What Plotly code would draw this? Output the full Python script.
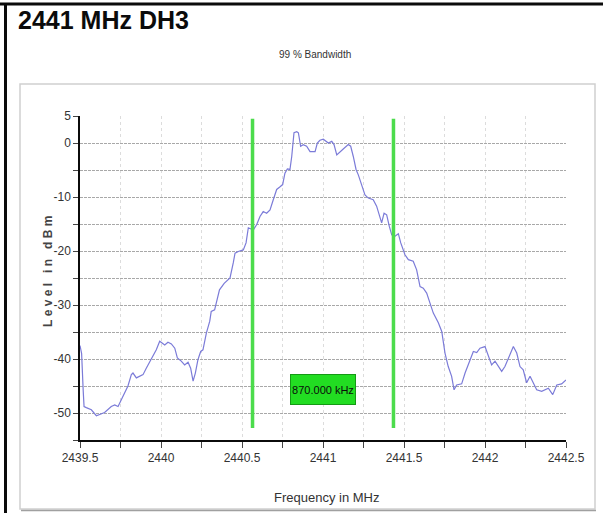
import plotly.graph_objects as go

# ---------------- data ----------------
freq_mhz = [
    2439.500, 2439.510, 2439.520, 2439.525, 2439.539, 2439.570, 2439.601, 2439.652,
    2439.693, 2439.714, 2439.735, 2439.765, 2439.796, 2439.817, 2439.827, 2439.848,
    2439.869, 2439.889, 2439.909, 2439.940, 2439.971, 2439.992, 2440.023, 2440.043,
    2440.064, 2440.085, 2440.101, 2440.125, 2440.146, 2440.167, 2440.183, 2440.198,
    2440.212, 2440.228, 2440.245, 2440.259, 2440.280, 2440.301, 2440.310, 2440.331,
    2440.352, 2440.361, 2440.390, 2440.426, 2440.446, 2440.457, 2440.477, 2440.508,
    2440.525, 2440.533, 2440.539, 2440.570, 2440.591, 2440.611, 2440.631, 2440.652,
    2440.673, 2440.693, 2440.714, 2440.735, 2440.751, 2440.765, 2440.780, 2440.796,
    2440.807, 2440.821, 2440.838, 2440.848, 2440.862, 2440.878, 2440.899, 2440.920,
    2440.951, 2440.965, 2440.981, 2441.002, 2441.023, 2441.033, 2441.054, 2441.068,
    2441.085, 2441.105, 2441.125, 2441.156, 2441.171, 2441.187, 2441.204, 2441.218,
    2441.239, 2441.259, 2441.280, 2441.310, 2441.331, 2441.348, 2441.362, 2441.377,
    2441.393, 2441.409, 2441.424, 2441.438, 2441.455, 2441.465, 2441.480, 2441.496,
    2441.506, 2441.527, 2441.557, 2441.578, 2441.599, 2441.619, 2441.640, 2441.660,
    2441.681, 2441.712, 2441.733, 2441.753, 2441.773, 2441.794, 2441.809, 2441.825,
    2441.856, 2441.877, 2441.907, 2441.928, 2441.949, 2441.969, 2442.000, 2442.020,
    2442.041, 2442.062, 2442.082, 2442.103, 2442.123, 2442.150, 2442.175, 2442.196,
    2442.216, 2442.236, 2442.257, 2442.278, 2442.294, 2442.319, 2442.350, 2442.370,
    2442.391, 2442.418, 2442.443, 2442.473, 2442.494, 2442.500,
]
level_dbm = [
    -37.5, -39.0, -46.0, -48.8, -49.0, -49.4, -50.5, -49.9,
    -48.8, -48.5, -48.8, -46.9, -45.0, -42.9, -42.6, -43.5,
    -43.2, -42.9, -41.7, -40.1, -38.3, -36.7, -37.4, -36.9,
    -37.2, -38.0, -39.8, -40.4, -41.1, -40.6, -41.7, -44.1,
    -42.6, -40.1, -38.6, -38.3, -35.2, -33.0, -31.2, -30.9,
    -28.4, -27.2, -26.0, -25.0, -22.2, -20.4, -20.1, -19.8,
    -18.5, -16.1, -15.7, -16.1, -15.1, -13.6, -12.7, -13.0,
    -12.4, -10.5, -8.6, -8.1, -7.7, -5.6, -4.8, -4.9,
    -2.5, 1.9, 2.1, 1.9, -0.6, -0.3, -0.6, -1.6,
    -1.6, 0.0, 0.5, 0.7, 0.3, 0.0, 0.3, -0.3,
    -2.2, -1.6, -1.1, -0.3, -0.6, -2.5, -4.9, -5.9,
    -7.7, -9.6, -10.2, -10.5, -11.7, -13.6, -14.8, -13.0,
    -13.3, -15.4, -17.0, -17.4, -17.0, -16.8, -18.5, -19.8,
    -20.7, -21.6, -21.9, -23.5, -26.6, -26.9, -27.8, -29.6,
    -31.5, -33.3, -34.9, -38.9, -41.4, -43.2, -45.7, -44.8,
    -44.6, -42.6, -40.1, -38.6, -38.8, -38.0, -37.7, -39.2,
    -41.1, -40.4, -41.4, -42.3, -41.4, -39.5, -37.7, -38.9,
    -41.4, -42.0, -44.4, -43.2, -44.1, -45.7, -46.0, -45.7,
    -45.4, -46.6, -44.8, -44.6, -44.1, -43.9,
]

bw_marker_freqs = [2440.565, 2441.435]
bw_marker_levels = [-52.8, 4.5]
bw_label = "870.000 kHz"
bw_label_pos = [2441.0, -45.7]

x_tick_vals = [2439.5, 2439.75, 2440.0, 2440.25, 2440.5, 2440.75, 2441.0, 2441.25,
               2441.5, 2441.75, 2442.0, 2442.25, 2442.5]
x_tick_text = ["2439.5", "", "2440", "", "2440.5", "", "2441", "",
               "2441.5", "", "2442", "", "2442.5"]
y_tick_vals = [5, 0, -5, -10, -15, -20, -25, -30, -35, -40, -45, -50, -55]
y_tick_text = ["5", "0", "", "-10", "", "-20", "", "-30", "", "-40", "", "-50", ""]

page_title = "2441 MHz DH3"
chart_title = "99 % Bandwidth"
x_title = "Frequency in MHz"
y_title = "Level in dBm"

# ---------------- layout helpers ----------------
W, H = 603, 513
L, R, T, B = 80, 566, 116, 440   # plot area in pixels


def px(x):
    return (x - L) / (R - L)


def py(y):
    return (B - y) / (B - T)


SANS = "Liberation Sans"
INK = "#0b0b0b"

NB = "\u00a0"
y_title_spaced = (NB * 3).join(NB.join(list(w)) for w in y_title.split(" "))

fig = go.Figure()
fig.add_trace(go.Scatter(
    x=freq_mhz, y=level_dbm, mode="lines",
    line=dict(color="#7b7bd8", width=1.2),
    hoverinfo="skip", showlegend=False,
))

shapes = []
for f in bw_marker_freqs:
    shapes.append(dict(type="line", xref="x", yref="y", x0=f, x1=f,
                       y0=bw_marker_levels[0], y1=bw_marker_levels[1],
                       line=dict(color="#4cdc4c", width=3.5), layer="above"))
# outer border (top and left)
shapes.append(dict(type="line", xref="paper", yref="paper",
                   x0=px(0), x1=px(603), y0=py(4), y1=py(4),
                   line=dict(color=INK, width=3)))
shapes.append(dict(type="line", xref="paper", yref="paper",
                   x0=px(5.5), x1=px(5.5), y0=py(3), y1=py(513),
                   line=dict(color=INK, width=3)))
# inner chart panel
shapes.append(dict(type="rect", xref="paper", yref="paper",
                   x0=px(20), x1=px(595), y0=py(509), y1=py(84),
                   line=dict(color="#d0d0d0", width=1.5), layer="below"))
shapes.append(dict(type="line", xref="paper", yref="paper",
                   x0=px(21), x1=px(596), y0=py(510.5), y1=py(510.5),
                   line=dict(color="#a0a0a0", width=1.5)))

annotations = [
    dict(text="<b>" + page_title + "</b>", xref="paper", yref="paper",
         x=px(16), y=py(20), xanchor="left", yanchor="middle", showarrow=False,
         font=dict(family=SANS, size=25, color=INK)),
    dict(text=chart_title, xref="paper", yref="paper",
         x=px(315), y=py(54), xanchor="center", yanchor="middle", showarrow=False,
         font=dict(family=SANS, size=10, color="#333333")),
    dict(text="<b>" + y_title_spaced + "</b>", xref="paper", yref="paper",
         x=px(48), y=py(272), xanchor="center", yanchor="middle", showarrow=False,
         textangle=-90,
         font=dict(family=SANS, size=12, color="#444444")),
    dict(text=x_title, xref="paper", yref="paper",
         x=px(326), y=py(497), xanchor="center", yanchor="middle", showarrow=False,
         font=dict(family=SANS, size=13, color="#333333")),
    dict(text=bw_label, xref="x", yref="y",
         x=bw_label_pos[0], y=bw_label_pos[1], showarrow=False,
         bgcolor="#22dd22", bordercolor="#159915", borderwidth=1,
         width=62, height=27, borderpad=1,
         font=dict(family=SANS, size=11, color=INK)),
]

fig.update_layout(
    width=W, height=H,
    margin=dict(l=L, r=W - R, t=T, b=H - B, pad=0),
    paper_bgcolor="white", plot_bgcolor="white",
    shapes=shapes, annotations=annotations,
    showlegend=False,
)
fig.update_xaxes(
    range=[2439.5, 2442.5], tickvals=x_tick_vals, ticktext=x_tick_text,
    showline=True, linecolor=INK, linewidth=1.5,
    ticks="outside", ticklen=6, tickcolor="#444", tickwidth=1,
    showgrid=True, gridcolor="#dcdcdc", griddash="dot", gridwidth=1,
    zeroline=False,
    tickfont=dict(family=SANS, size=12, color="#333333"),
)
fig.update_yaxes(
    range=[-55, 5], tickvals=y_tick_vals, ticktext=y_tick_text,
    showline=True, linecolor=INK, linewidth=1.5,
    ticks="outside", ticklen=5, tickcolor="#444", tickwidth=1,
    showgrid=True, gridcolor="#a8a8a8", griddash="3px,1px", gridwidth=1,
    zeroline=False,
    tickfont=dict(family=SANS, size=12, color="#333333"),
)

page_fix_js = (
    "var s=document.createElement('style');"
    "s.textContent='html,body{margin:0;padding:0;overflow:hidden;}';"
    "document.head.appendChild(s);"
)

fig.write_html(
    "out.html",
    config={"displayModeBar": False},
    post_script=page_fix_js,
)
